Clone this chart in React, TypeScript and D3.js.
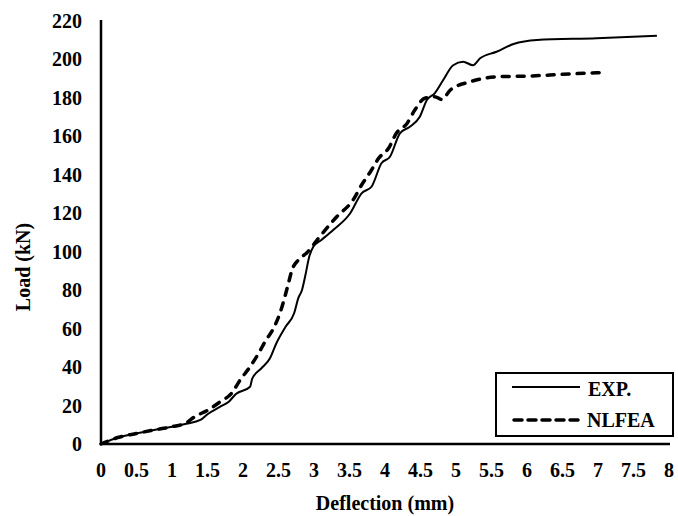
import React from "react";
import * as d3 from "d3";

const expX = [0, 0.1, 0.25, 0.5, 0.75, 1.0, 1.2, 1.4, 1.5, 1.68, 1.8, 1.9, 2.1, 2.13, 2.26, 2.38, 2.47, 2.6, 2.72, 2.78, 2.83, 2.88, 2.93, 2.99, 3.1, 3.27, 3.51, 3.67, 3.81, 3.95, 4.07, 4.21, 4.35, 4.49, 4.59, 4.7, 4.82, 4.96, 5.1, 5.24, 5.34, 5.57, 5.81, 6.14, 6.98, 7.83];
const expY = [0, 1.5, 3.5, 5.5, 7.3, 9, 10.5, 12.5, 15.5, 19.4, 22, 26, 29.8, 34, 39.4, 44.6, 52.4, 61, 68, 76, 80, 88, 97, 102.6, 106, 111.3, 120, 130.4, 133.8, 146, 149.4, 161.6, 165, 170.2, 178.9, 182.4, 189.3, 197, 198.8, 197, 200.6, 204, 208, 210.1, 211, 212.3];

const nlfeaX = [0, 0.1, 0.25, 0.5, 0.75, 1.0, 1.2, 1.32, 1.5, 1.68, 1.84, 1.96, 2.1, 2.22, 2.31, 2.43, 2.52, 2.59, 2.64, 2.69, 2.78, 2.9, 3.08, 3.32, 3.55, 3.67, 3.81, 3.91, 4.05, 4.16, 4.31, 4.42, 4.56, 4.7, 4.8, 4.92, 5.2, 5.57, 6.04, 6.51, 7.12];
const nlfeaY = [0, 1.5, 3.5, 5.5, 7.3, 9, 11, 14.2, 17.5, 22, 26.4, 33.3, 40.2, 47.2, 53.2, 60.2, 68, 76.6, 83.6, 90.5, 95.7, 99.5, 107.8, 118.2, 126.9, 134.7, 142.5, 148.6, 153.8, 161.6, 166.7, 173.7, 179.8, 180.6, 179.2, 184.1, 188.4, 191, 191.4, 192.3, 193.3];

const xTicks = [0, 0.5, 1, 1.5, 2, 2.5, 3, 3.5, 4, 4.5, 5, 5.5, 6, 6.5, 7, 7.5, 8];
const yTicks = [0, 20, 40, 60, 80, 100, 120, 140, 160, 180, 200, 220];
const seriesNames = ["EXP.", "NLFEA"];

const FONT = "'Liberation Serif', 'Times New Roman', serif";

export default function App() {
  const W = 678, H = 516;
  const x = d3.scaleLinear().domain([0, 8]).range([101, 669]);
  const y = d3.scaleLinear().domain([0, 220]).range([444, 21]);
  const line = d3
    .line<[number, number]>()
    .x((d) => x(d[0]))
    .y((d) => y(d[1]))
    .curve(d3.curveMonotoneX);
  const expData: [number, number][] = expX.map((v, i) => [v, expY[i]]);
  const nlData: [number, number][] = nlfeaX.map((v, i) => [v, nlfeaY[i]]);
  const txt = { fontFamily: FONT, fontWeight: "bold", fontSize: 20, fill: "#000" } as const;

  return (
    <svg width={W} height={H} style={{ position: "absolute", left: 0, top: 0, background: "#fff" }}>
      <rect x={0} y={0} width={W} height={H} fill="#fff" />
      {/* curves */}
      <path d={line(expData) || ""} fill="none" stroke="#000" strokeWidth={2} />
      <path
        d={line(nlData) || ""}
        fill="none"
        stroke="#000"
        strokeWidth={3.5}
        strokeDasharray="7,8"
        strokeLinecap="round"
      />
      {/* axes */}
      <line x1={x(0)} x2={x(0)} y1={y(220) - 1} y2={y(0)} stroke="#000" strokeWidth={2.5} />
      <line x1={x(0) - 1} x2={670} y1={y(0)} y2={y(0)} stroke="#000" strokeWidth={2.5} />
      {yTicks.map((t) => (
        <text key={"y" + t} x={82} y={y(t)} dy="0.35em" textAnchor="end" {...txt}>
          {t}
        </text>
      ))}
      {xTicks.map((t) => (
        <text key={"x" + t} x={x(t)} y={477} textAnchor="middle" {...txt}>
          {t}
        </text>
      ))}
      <text x={385} y={510} textAnchor="middle" {...txt}>
        Deflection (mm)
      </text>
      <text
        transform={`translate(30,267) rotate(-90)`}
        textAnchor="middle"
        {...txt}
      >
        Load (kN)
      </text>
      {/* legend */}
      <rect x={496} y={373} width={177} height={63} fill="#fff" stroke="#000" strokeWidth={2} />
      <line x1={512} x2={580} y1={387} y2={387} stroke="#000" strokeWidth={2} />
      <line
        x1={514}
        x2={582}
        y1={420}
        y2={420}
        stroke="#000"
        strokeWidth={3.5}
        strokeDasharray="8,6"
        strokeLinecap="round"
      />
      <text x={588} y={396} {...txt}>
        {seriesNames[0]}
      </text>
      <text x={587} y={427} {...txt}>
        {seriesNames[1]}
      </text>
    </svg>
  );
}
